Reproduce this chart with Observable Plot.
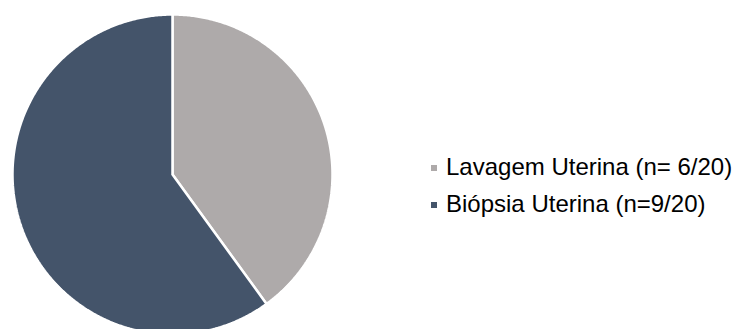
<!DOCTYPE html>
<html>
<head>
<meta charset="utf-8">
<script src="https://cdn.jsdelivr.net/npm/d3@7"></script>
<script src="https://cdn.jsdelivr.net/npm/@observablehq/plot@0.6"></script>
<style>
  html, body { margin: 0; padding: 0; background: #fff; }
  #wrap { position: relative; width: 735px; height: 329px; overflow: hidden; }
  .legend { position: absolute; left: 431px; font-family: "Liberation Sans", Arial, sans-serif; font-size: 24px; color: #000; white-space: nowrap; }
  .legend .row { position: absolute; left: 0; height: 30px; display: flex; align-items: center; }
  .legend .sw { width: 6px; height: 6px; margin-right: 9px; margin-top: 2px; }
</style>
</head>
<body>
<div id="wrap"></div>
<script>
const categories = ["Lavagem Uterina (n= 6/20)", "Biópsia Uterina (n=9/20)"];
const values = [6, 9];
const colors = ["#AEAAAA", "#44546A"];

// Slice geometry from the values (clockwise from 12 o'clock)
const arcs = d3.pie().sort(null).value(d => d.value)(
  categories.map((c, i) => ({category: c, value: values[i]}))
);
const pts = [];
for (const a of arcs) {
  const c = a.data.category;
  pts.push({category: c, x: 0, y: 0});
  const n = Math.max(2, Math.ceil((a.endAngle - a.startAngle) / (Math.PI / 360)));
  for (let k = 0; k <= n; k++) {
    const t = a.startAngle + (a.endAngle - a.startAngle) * k / n;
    pts.push({category: c, x: Math.sin(t), y: -Math.cos(t)});
  }
  pts.push({category: c, x: 0, y: 0});
}

const plot = Plot.plot({
  width: 735,
  height: 329,
  margin: 0,
  style: {overflow: "hidden", background: "#fff"},
  x: {domain: [-1, 1], range: [12, 332], axis: null},
  y: {domain: [-1, 1], range: [14, 334], axis: null},
  color: {domain: categories, range: colors},
  marks: [
    Plot.line(pts, {x: "x", y: "y", z: "category", fill: "category", stroke: "#fff", strokeWidth: 2.5, strokeLinejoin: "miter", curve: "linear"})
  ]
});
const wrap = document.getElementById("wrap");
wrap.appendChild(plot);

const legend = document.createElement("div");
legend.className = "legend";
legend.style.top = "0px";
const tops = [152, 189];
categories.forEach((c, i) => {
  const row = document.createElement("div");
  row.className = "row";
  row.style.top = tops[i] + "px";
  const sw = document.createElement("span");
  sw.className = "sw";
  sw.style.background = colors[i];
  const tx = document.createElement("span");
  tx.textContent = c;
  row.appendChild(sw);
  row.appendChild(tx);
  legend.appendChild(row);
});
wrap.appendChild(legend);
</script>
</body>
</html>
